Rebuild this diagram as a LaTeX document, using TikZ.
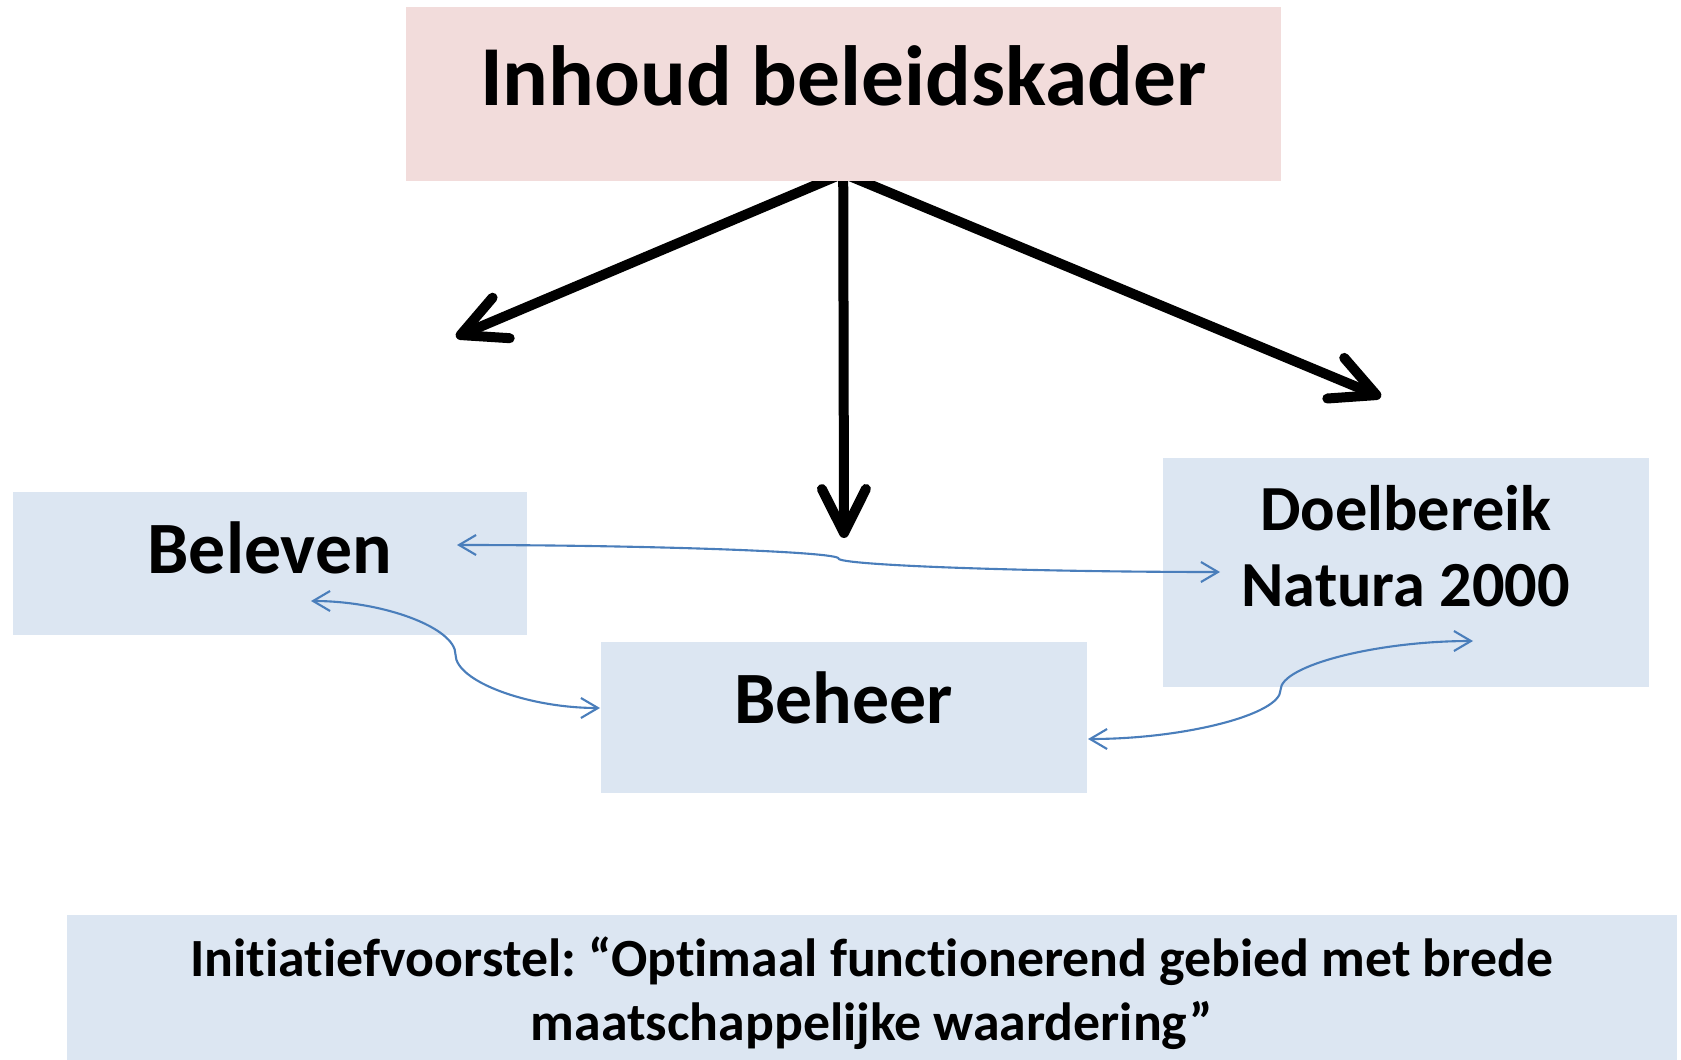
\documentclass[tikz,border=0pt]{standalone}
\usepackage{fontspec}
\setmainfont{Carlito}[Ligatures=NoCommon]
\frenchspacing
\usetikzlibrary{arrows.meta,backgrounds,calc}
\definecolor{roze}{RGB}{242,220,219}
\definecolor{lichtblauw}{RGB}{220,230,242}
\definecolor{lijnblauw}{RGB}{74,126,187}

\begin{document}
\begin{tikzpicture}[
    vak/.style={inner sep=0pt, anchor=north west, align=center},
    pijl/.style={line width=1mm, -{Straight Barb[round,length=4.4mm,width=4.4mm]}},
    verbinding/.style={lijnblauw, line width=0.6pt,
      {Straight Barb[length=1.7mm,width=2mm]}-{Straight Barb[length=1.7mm,width=2mm]}}
  ]
  \useasboundingbox (0,0) rectangle (16.81,10.59);
  % Kader bovenaan
  \node[vak, fill=roze, minimum width=8.75cm, text height=0.99cm, text depth=0.75cm,
        font=\bfseries\fontsize{24.3}{29}\selectfont] (inhoud) at (4.05,10.53) {Inhoud beleidskader};
  % Drie onderdelen
  \node[vak, fill=lichtblauw, minimum width=5.14cm, text height=0.82cm, text depth=0.61cm,
        font=\bfseries\fontsize{21}{25}\selectfont] (beleven) at (0.12,5.68) {Beleven};
  \node[vak, fill=lichtblauw, minimum width=4.86cm, text height=0.82cm, text depth=0.69cm,
        font=\bfseries\fontsize{21}{25}\selectfont] (beheer) at (6.00,4.18) {Beheer};
  \node[vak, fill=lichtblauw, minimum width=4.86cm, text height=1.49cm, text depth=0.80cm,
        font=\bfseries\fontsize{18.3}{21.6}\selectfont] (doel) at (11.62,6.02) {Doelbereik\\Natura 2000};
  % Initiatiefvoorstel
  \node[vak, fill=lichtblauw, minimum width=16.10cm, text height=1.26cm, text depth=0.19cm,
        font=\bfseries\fontsize{15.3}{18.2}\selectfont] (voorstel) at (0.66,1.45)
        {Initiatiefvoorstel: “Optimaal functionerend gebied met brede\\maatschappelijke waardering”};
  % Zwarte pijlen
  \coordinate (bron) at ([yshift=0.08cm]inhoud.south);
  \coordinate (links) at (4.56,7.22);
  \coordinate (midden) at (8.44,5.21);
  \coordinate (rechts) at (13.81,6.62);
  \begin{pgfonlayer}{background}
    \foreach \eind in {links,midden,rechts} {
      \draw[pijl] (bron) -- (\eind);
    }
  \end{pgfonlayer}
  % Eindpunten van de verbindingen
  \coordinate (bel-r) at (4.57,5.14);
  \coordinate (doel-l) at (12.20,4.87);
  \coordinate (bel-o) at (3.11,4.58);
  \coordinate (beh-l) at (6.00,3.51);
  \coordinate (beh-r) at (10.88,3.20);
  \coordinate (doel-o) at (14.73,4.18);
  % Gebogen verbindingen
  \foreach \a/\b in {bel-r/doel-l, bel-o/beh-l, beh-r/doel-o} {
    \draw[verbinding] let \p1=(\a), \p2=(\b) in
      (\p1) .. controls ({(3*\x1+\x2)/4},\y1) and ({(\x1+\x2)/2},{(3*\y1+\y2)/4})
      .. ({(\x1+\x2)/2},{(\y1+\y2)/2})
      .. controls ({(\x1+\x2)/2},{(\y1+3*\y2)/4}) and ({(\x1+3*\x2)/4},\y2) .. (\p2);
  }
\end{tikzpicture}
\end{document}
